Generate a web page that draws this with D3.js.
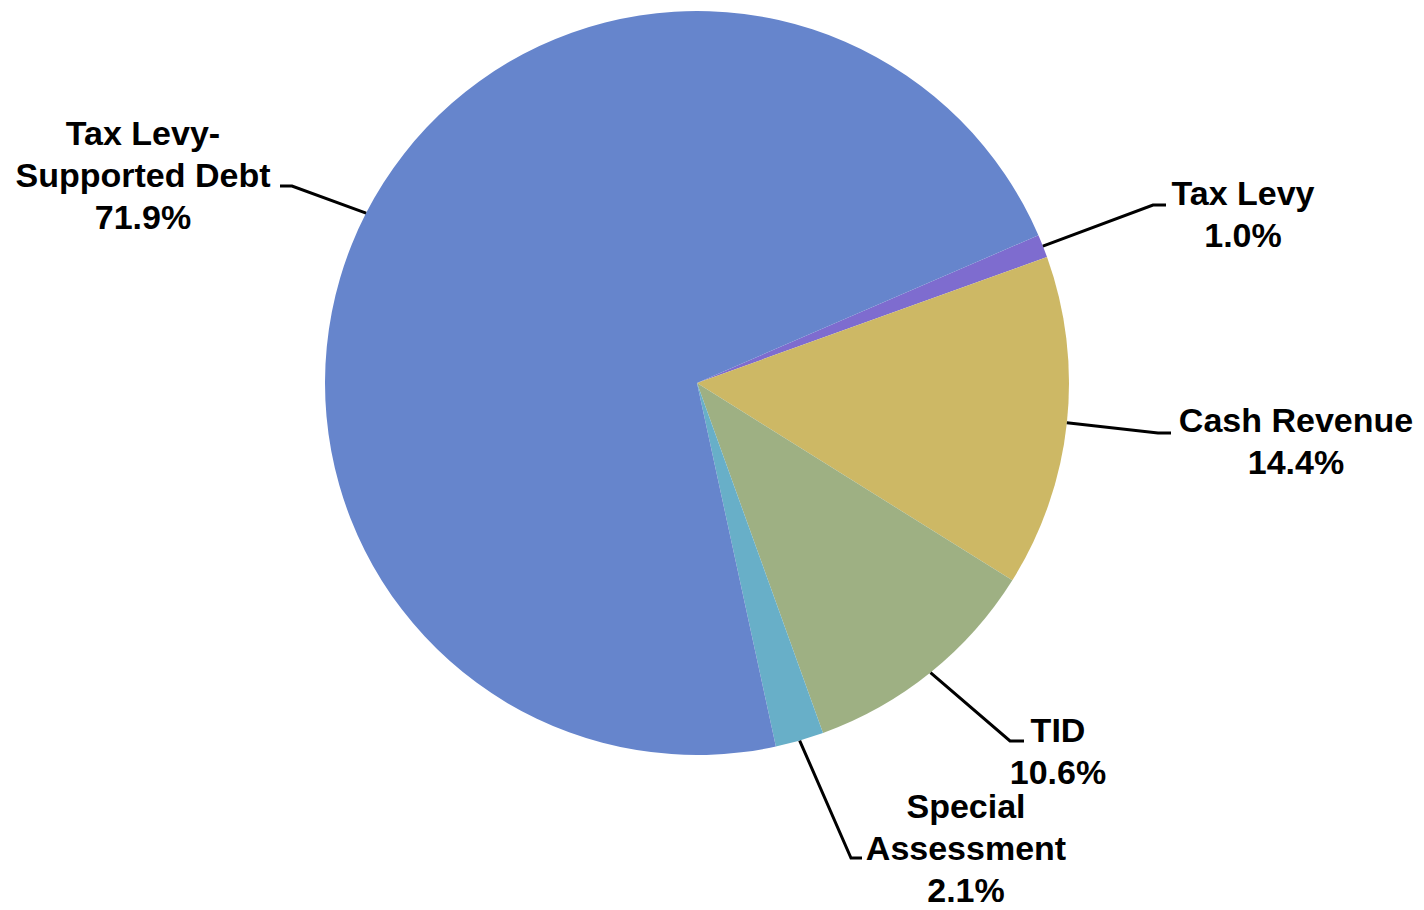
<!DOCTYPE html>
<html>
<head>
<meta charset="utf-8">
<script src="https://cdn.jsdelivr.net/npm/d3@7"></script>
<style>
  body { margin: 0; background: #fff; }
  svg { display: block; }
</style>
</head>
<body>
<svg id="chart"></svg>
<script>
// Data
const categories = ["Tax Levy", "Cash Revenue", "TID", "Special Assessment", "Tax Levy-Supported Debt"]
const values = [1.0, 14.4, 10.6, 2.1, 71.9]
const labelLines = [
  ["Tax Levy", "1.0%"],
  ["Cash Revenue", "14.4%"],
  ["TID", "10.6%"],
  ["Special", "Assessment", "2.1%"],
  ["Tax Levy-", "Supported Debt", "71.9%"]
]
const colors = ["#7e6ccf", "#cdb865", "#9eb083", "#68afc8", "#6685cc"]

// Dimensions
const totalW = 1424
const totalH = 910
const cx = 697
const cy = 383
const r = 372
const lineH = 42

// Label layout: elbow point of leader, text anchor x, first baseline y
const layout = [
  { elbow: [1153, 205], end: 1166, tx: 1243, ty: 205 },
  { elbow: [1158, 433], end: 1171, tx: 1296, ty: 432 },
  { elbow: [1010, 741], end: 1024, tx: 1058, ty: 742 },
  { elbow: [851, 858], end: 862, tx: 966, ty: 818 },
  { elbow: [292, 186], end: 280, tx: 143, ty: 145 }
]

const svg = d3.select("#chart")
  .attr("width", totalW)
  .attr("height", totalH)

const g = svg.append("g")
  .attr("transform", `translate(${cx}, ${cy})`)

// Pie
const start = 66.6 * Math.PI / 180
const pie = d3.pie()
  .sort(null)
  .value(d => d)
  .startAngle(start)
  .endAngle(start + 2 * Math.PI)
const arcs = pie(values)
const arc = d3.arc().innerRadius(0).outerRadius(r)

g.selectAll("path.slice")
  .data(arcs)
  .enter()
  .append("path")
  .attr("class", "slice")
  .attr("d", arc)
  .attr("fill", (d, i) => colors[i])

// Leader lines
const edge = d => {
  const a = (d.startAngle + d.endAngle) / 2
  return [cx + r * Math.sin(a), cy - r * Math.cos(a)]
}

svg.selectAll("polyline.leader")
  .data(arcs)
  .enter()
  .append("polyline")
  .attr("class", "leader")
  .attr("points", (d, i) => {
    const p = edge(d)
    const L = layout[i]
    return [p, L.elbow, [L.end, L.elbow[1]]].map(q => q.join(",")).join(" ")
  })
  .attr("fill", "none")
  .attr("stroke", "#000")
  .attr("stroke-width", 3)

// Labels
const labels = svg.selectAll("text.label")
  .data(categories)
  .enter()
  .append("text")
  .attr("class", "label")
  .attr("text-anchor", "middle")
  .attr("font-family", "'Liberation Sans', Arial, sans-serif")
  .attr("font-weight", "bold")
  .attr("font-size", 34)
  .attr("fill", "#000")

labels.each(function (d, i) {
  const L = layout[i]
  d3.select(this).selectAll("tspan")
    .data(labelLines[i])
    .enter()
    .append("tspan")
    .attr("x", L.tx)
    .attr("y", (t, j) => L.ty + j * lineH)
    .text(t => t)
})
</script>
</body>
</html>
